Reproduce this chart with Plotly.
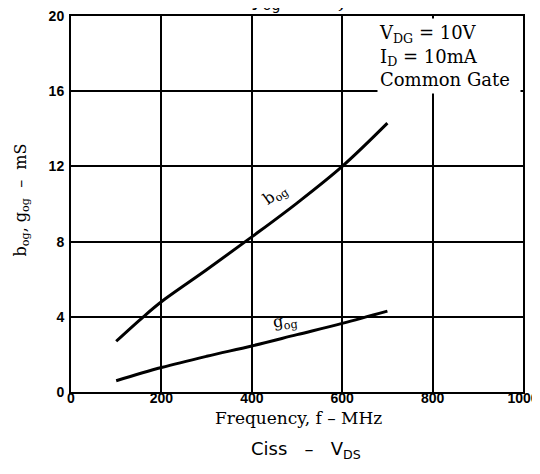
import plotly.graph_objects as go

freq = [100, 160, 200, 300, 400, 500, 600, 700]
b_og = [2.7, 4.0, 4.8, 6.5, 8.25, 10.05, 12.0, 14.3]
freq_g = [100, 200, 300, 400, 500, 600, 700]
g_og = [0.6, 1.3, 1.9, 2.45, 3.05, 3.65, 4.3]
x_ticks = [0, 200, 400, 600, 800, 1000]
y_ticks = [0, 4, 8, 12, 16, 20]

SERIF = "DejaVu Serif, serif"
SANS = "Liberation Sans, Arial, sans-serif"

fig = go.Figure()
fig.add_trace(go.Scatter(x=freq, y=b_og, mode="lines", line=dict(color="black", width=3, shape="spline"), showlegend=False))
fig.add_trace(go.Scatter(x=freq_g, y=g_og, mode="lines", line=dict(color="black", width=3, shape="spline"), showlegend=False))

axis_common = dict(showgrid=True, gridcolor="black", gridwidth=1.5, showline=True, linecolor="black",
                   linewidth=2, mirror=True, zeroline=False, ticks="", automargin=False,
                   ticklabeloverflow="allow",
                   tickfont=dict(family=SANS, size=14, color="black", weight="bold"))
fig.update_xaxes(range=[0, 1000], tickvals=x_ticks, ticktext=[str(v) for v in x_ticks], ticklabelstandoff=-8, **axis_common)
fig.update_yaxes(range=[0, 20], tickvals=y_ticks, ticktext=[str(v) for v in y_ticks], ticklabelstandoff=2, **axis_common)

annotations = [
    dict(x=1, y=1, xref="paper", yref="paper", xanchor="right", yanchor="top", xshift=-2, yshift=-2,
         text="V<sub>DG</sub> = 10V<br>I<sub>D</sub> = 10mA<br>Common Gate", align="left", showarrow=False,
         bgcolor="white", width=140, height=72, font=dict(family=SERIF, size=18, color="black")),
    dict(x=-0.11, y=0.51, xref="paper", yref="paper", xanchor="center", yanchor="middle", textangle=-90,
         text="b<sub>og</sub>, g<sub>og</sub>  –  mS", showarrow=False,
         font=dict(family=SERIF, size=16, color="black")),
    dict(x=0.503, y=-0.068, xref="paper", yref="paper", yanchor="middle", text="Frequency, f – MHz", showarrow=False,
         font=dict(family=SERIF, size=17, color="black")),
    dict(x=0.52, y=-0.154, xref="paper", yref="paper", yanchor="middle", text="Ciss   –   V<sub>DS</sub>", showarrow=False,
         font=dict(family="DejaVu Sans, sans-serif", size=18, color="black")),
    dict(x=0.393, y=1.0, xref="paper", yref="paper", yanchor="middle", xanchor="left", yshift=16,
         text="y<sub>og</sub>", showarrow=False,
         font=dict(family="DejaVu Sans, sans-serif", size=20, color="black")),
    dict(x=0.605, y=1.0, xref="paper", yref="paper", yanchor="middle", xanchor="center", yshift=16,
         text="<i>f</i>", showarrow=False,
         font=dict(family="DejaVu Serif, serif", size=20, color="black")),
    dict(x=452, y=10.5, text="b<sub>og</sub>", showarrow=False, textangle=-35,
         font=dict(family=SERIF, size=16, color="black")),
    dict(x=473, y=3.75, text="g<sub>og</sub>", showarrow=False, textangle=-8,
         font=dict(family=SERIF, size=16, color="black")),
]
# the page body adds an 8px margin; size and margins compensate so the plot area lands where the reference has it
fig.update_layout(width=532, height=458, margin=dict(l=63, r=17, t=8, b=74),
                  plot_bgcolor="white", paper_bgcolor="white", annotations=annotations)
fig.write_html("out.html")
